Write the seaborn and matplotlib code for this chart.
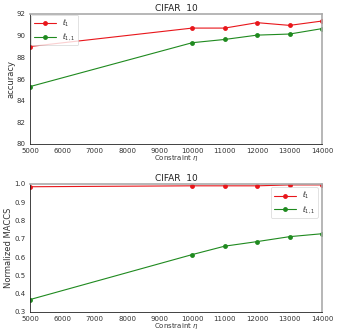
import matplotlib
matplotlib.use("Agg")
import matplotlib.pyplot as plt
import seaborn as sns
import pandas as pd

# Constraint values on x-axis
constraint = [5000, 10000, 11000, 12000, 13000, 14000]

# Accuracy (top panel)
acc_l1 = [89.0, 90.7, 90.7, 91.2, 90.95, 91.35]
acc_l11 = [85.3, 89.35, 89.65, 90.05, 90.15, 90.65]

# Normalized MACCS (bottom panel)
maccs_l1 = [0.985, 0.99, 0.99, 0.99, 0.995, 0.995]
maccs_l11 = [0.368, 0.614, 0.66, 0.685, 0.712, 0.728]

labels = [r'$\ell_1$', r'$\ell_{1,1}$']
colors = ['#e8161b', '#1f8a1f']

sns.set_style("white")
plt.rcParams['font.family'] = ['DejaVu Sans']

fig = plt.figure(figsize=(3.37, 3.30), dpi=100)
ax1 = fig.add_axes([30 / 337, 1 - 144 / 330, 292 / 337, 130 / 330])
ax2 = fig.add_axes([30 / 337, 1 - 312 / 330, 292 / 337, 128 / 330])


def build(l1, l11):
    return pd.DataFrame({
        'constraint': constraint * 2,
        'value': l1 + l11,
        'method': [labels[0]] * len(constraint) + [labels[1]] * len(constraint),
    })


panels = [
    (ax1, (acc_l1, acc_l11), 'accuracy', (80, 92), list(range(80, 93, 2)),
     dict(loc='upper left', bbox_to_anchor=(0.005, 0.995))),
    (ax2, (maccs_l1, maccs_l11), 'Normalized MACCS', (0.3, 1.0),
     [0.3, 0.4, 0.5, 0.6, 0.7, 0.8, 0.9, 1.0],
     dict(loc='upper right', bbox_to_anchor=(0.985, 0.975))),
]

for ax, (l1, l11), ylab, ylim, yticks, legkw in panels:
    df = build(l1, l11)
    sns.lineplot(data=df, x='constraint', y='value', hue='method', palette=colors,
                 marker='o', markersize=3.5, markeredgewidth=0, linewidth=0.8, ax=ax)
    ax.set_xlim(5000, 14000)
    ax.set_ylim(*ylim)
    ax.set_xticks(range(5000, 14001, 1000))
    ax.set_yticks(yticks)
    if ylim[1] == 1.0:
        ax.set_yticklabels([f'{t:.1f}' for t in yticks])
    ax.tick_params(labelsize=5, length=2, width=0.5, pad=1, colors='#333333')
    ax.set_title('CIFAR  10', fontsize=6.5, pad=2.5, color='#222222')
    ax.set_xlabel(r'Constraint $\eta$', fontsize=5, color='#333333')
    ax.xaxis.set_label_coords(0.5, -0.072)
    ax.set_ylabel(ylab, fontsize=6, labelpad=1, color='#333333',
                  family=['Liberation Sans Narrow', 'DejaVu Sans'])
    for side in ['left', 'bottom']:
        ax.spines[side].set_color('#222222')
        ax.spines[side].set_linewidth(0.6)
    for side in ['top', 'right']:
        ax.spines[side].set_color('#aaaaaa')
        ax.spines[side].set_linewidth(1.2)
    leg = ax.legend(fontsize=5, frameon=True, handlelength=3.2, borderpad=0.4,
                    labelspacing=0.4, borderaxespad=0, **legkw)
    leg.get_frame().set_linewidth(0.5)
    leg.get_frame().set_edgecolor('#cccccc')

fig.savefig('out.png', dpi=100)
